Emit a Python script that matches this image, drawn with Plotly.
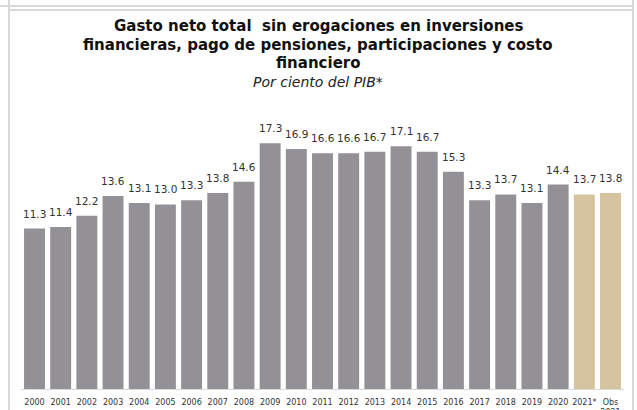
import plotly.graph_objects as go

years = ["2000","2001","2002","2003","2004","2005","2006","2007","2008","2009","2010",
         "2011","2012","2013","2014","2015","2016","2017","2018","2019","2020","2021*","Obs<br>2021"]
values = [11.3,11.4,12.2,13.6,13.1,13.0,13.3,13.8,14.6,17.3,16.9,16.6,16.6,16.7,17.1,16.7,15.3,13.3,13.7,13.1,14.4,13.7,13.8]
labels = ["11.3","11.4","12.2","13.6","13.1","13.0","13.3","13.8","14.6","17.3","16.9","16.6","16.6","16.7","17.1","16.7","15.3","13.3","13.7","13.1","14.4","13.7","13.8"]
title_lines = ["Gasto neto total  sin erogaciones en inversiones",
               "financieras, pago de pensiones, participaciones y costo",
               "financiero"]
subtitle = "Por ciento del PIB*"

GRAY = "#939196"
BEIGE = "#d6c39f"
colors = [GRAY]*21 + [BEIGE]*2

W, H = 637, 410
ml, mr, mt, mb = 21, 13, 105, 21
pw, ph = W-ml-mr, H-mt-mb

def px(x):
    return (x-ml)/pw
def py(y):
    return (H-mb-y)/ph

FONT = "DejaVu Sans"

fig = go.Figure(go.Bar(
    x=years, y=values, marker_color=colors, marker_line_width=0, hoverinfo="skip",
))

frame = "#d9d9d9"
shapes = [
    dict(type="line", xref="paper", yref="paper", x0=px(9), x1=px(9), y0=py(0), y1=py(412), line=dict(color=frame, width=2)),
    dict(type="line", xref="paper", yref="paper", x0=px(633), x1=px(633), y0=py(0), y1=py(412), line=dict(color=frame, width=2)),
    dict(type="line", xref="paper", yref="paper", x0=px(0), x1=px(633), y0=py(6), y1=py(6), line=dict(color=frame, width=2)),
    dict(type="line", xref="paper", yref="paper", x0=px(9), x1=px(633), y0=py(10), y1=py(10), line=dict(color=frame, width=2)),
]

annotations = []
for yy, line in zip([26, 45, 63], title_lines):
    annotations.append(dict(xref="paper", yref="paper", x=px(318), y=py(yy), yanchor="middle", xanchor="center",
                            showarrow=False, text=f"<b>{line}</b>",
                            font=dict(size=15, color="#111111", family=FONT)))
annotations.append(dict(xref="paper", yref="paper", x=px(318), y=py(82), yanchor="middle", xanchor="center",
                        showarrow=False, text=f"<i>{subtitle}</i>",
                        font=dict(size=14, color="#222222", family=FONT)))
# category axis: annotation x is the category's serial index
for i, (yv, t) in enumerate(zip(values, labels)):
    annotations.append(dict(x=i, y=yv, xref="x", yref="y", text=t, showarrow=False, yanchor="bottom", yshift=7,
                            font=dict(size=10.5, color="#333333", family=FONT)))

fig.update_layout(
    width=W, height=H, margin=dict(l=ml, r=mr, t=mt, b=mb, autoexpand=False),
    paper_bgcolor="white", plot_bgcolor="white",
    bargap=0.2, showlegend=False, shapes=shapes, annotations=annotations,
    font=dict(family=FONT, color="#222222"),
)
fig.update_xaxes(type="category", categoryorder="array", categoryarray=years, automargin=False,
                 showline=True, linecolor="#d9d9d9", linewidth=1, tickfont=dict(size=8, color="#333333", family=FONT),
                 tickangle=0, ticks="", showgrid=False, ticklabelstandoff=5)
fig.update_yaxes(visible=False, range=[0, 20])

fig.write_html("out.html", config={"displayModeBar": False},
               post_script="document.body.style.margin='0';document.body.style.overflow='hidden';")
